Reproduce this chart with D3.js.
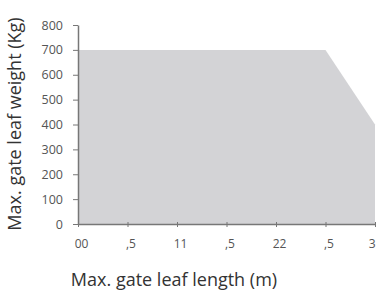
<!DOCTYPE html>
<html>
<head>
<meta charset="utf-8">
<script src="https://cdn.jsdelivr.net/npm/d3@7"></script>
<style>
  body { margin: 0; background: #fff; }
  text { font-family: "Open Sans", "DejaVu Sans", sans-serif; }
</style>
</head>
<body>
<div id="chart"></div>
<script>
// gate leaf length (m) vs max weight (Kg)
const lengths = [0, 2.5, 3];
const weights = [700, 700, 400];
const xTicks = [0, 0.5, 1, 1.5, 2, 2.5, 3];
const xTickLabels = ["00", ",5", "11", ",5", "22", ",5", "3"];
const yTicks = [0, 100, 200, 300, 400, 500, 600, 700, 800];

var width = 379,
    height = 293;

var x = d3.scaleLinear().domain([0, 3]).range([78, 375]);
var y = d3.scaleLinear().domain([0, 800]).range([224, 25]);

var svg = d3.select("#chart")
  .append("svg")
    .attr("width", width)
    .attr("height", height);

var data = lengths.map((l, i) => ({ l: l, w: weights[i] }));

// filled area
var area = d3.area()
  .x(d => x(d.l))
  .y0(y(0))
  .y1(d => y(d.w));

svg.append("path")
  .datum(data)
  .attr("d", area)
  .attr("fill", "#d3d3d6");

// y axis
var yAxis = svg.append("g")
  .attr("transform", "translate(" + x(0) + ",0)")
  .call(d3.axisLeft(y).tickValues(yTicks).tickSize(5).tickPadding(10).tickSizeOuter(0));
yAxis.select(".domain").attr("stroke", "#777").attr("stroke-width", 1.5);
yAxis.selectAll(".tick line").attr("stroke", "#777");
yAxis.selectAll("text").attr("fill", "#555").style("font-size", "12.5px");

// x axis
var xAxis = svg.append("g")
  .attr("transform", "translate(0," + y(0) + ")")
  .call(d3.axisBottom(x).tickValues(xTicks).tickFormat((d, i) => xTickLabels[i]).tickSize(3).tickPadding(12).tickSizeOuter(0));
xAxis.select(".domain").attr("stroke", "#777").attr("stroke-width", 1.5);
xAxis.selectAll(".tick line").attr("stroke", "#777").attr("y1", -2);
xAxis.selectAll("text").attr("fill", "#555").style("font-size", "12px")
  .attr("dx", (d, i) => i === xTicks.length - 1 ? 0 : 3)
  .attr("text-anchor", (d, i) => i === xTicks.length - 1 ? "end" : "middle");

// titles
svg.append("text")
  .attr("transform", "translate(21," + 124 + ") rotate(-90)")
  .attr("text-anchor", "middle")
  .attr("fill", "#333")
  .style("font-size", "18px")
  .text("Max. gate leaf weight (Kg)");

svg.append("text")
  .attr("x", 174)
  .attr("y", 286)
  .attr("text-anchor", "middle")
  .attr("fill", "#333")
  .style("font-size", "18px")
  .text("Max. gate leaf length (m)");
</script>
</body>
</html>
